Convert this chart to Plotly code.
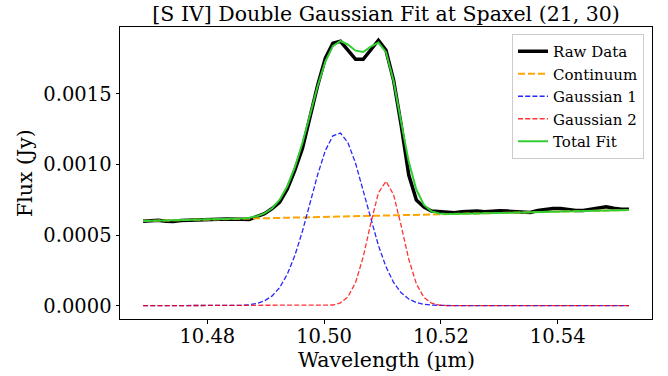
import plotly.graph_objects as go

wavelength = [
    10.4690, 10.4703, 10.4716, 10.4729, 10.4742, 10.4755, 10.4768, 10.4781, 10.4794, 10.4807,
    10.4820, 10.4833, 10.4846, 10.4859, 10.4872, 10.4885, 10.4898, 10.4911, 10.4924, 10.4937,
    10.4950, 10.4963, 10.4976, 10.4989, 10.5002, 10.5015, 10.5028, 10.5041, 10.5054, 10.5067,
    10.5080, 10.5093, 10.5106, 10.5119, 10.5132, 10.5145, 10.5158, 10.5171, 10.5184, 10.5197,
    10.5210, 10.5223, 10.5236, 10.5249, 10.5262, 10.5275, 10.5288, 10.5301, 10.5314, 10.5327,
    10.5340, 10.5353, 10.5366, 10.5379, 10.5392, 10.5405, 10.5418, 10.5431, 10.5444, 10.5457,
    10.5470, 10.5483, 10.5496, 10.5509, 10.5522,
]

raw_flux = [
    0.000599, 0.000603, 0.000606, 0.000599, 0.000596, 0.000603, 0.000606, 0.000610, 0.000610, 0.000613,
    0.000613, 0.000615, 0.000616, 0.000613, 0.000611, 0.000630, 0.000652, 0.000688, 0.000734, 0.000826,
    0.000960, 0.001116, 0.001335, 0.001561, 0.001752, 0.001859, 0.001873, 0.001809, 0.001745, 0.001745,
    0.001816, 0.001880, 0.001809, 0.001597, 0.001278, 0.000925, 0.000748, 0.000698, 0.000670, 0.000666,
    0.000663, 0.000659, 0.000666, 0.000670, 0.000670, 0.000666, 0.000670, 0.000672, 0.000670, 0.000666,
    0.000663, 0.000661, 0.000674, 0.000684, 0.000688, 0.000688, 0.000681, 0.000674, 0.000674, 0.000684,
    0.000695, 0.000700, 0.000691, 0.000684, 0.000684,
]

continuum = [
    0.0006000, 0.0006012, 0.0006024, 0.0006036, 0.0006049, 0.0006061, 0.0006073, 0.0006085, 0.0006097, 0.0006109,
    0.0006122, 0.0006134, 0.0006146, 0.0006158, 0.0006170, 0.0006182, 0.0006194, 0.0006207, 0.0006219, 0.0006231,
    0.0006243, 0.0006255, 0.0006267, 0.0006279, 0.0006292, 0.0006304, 0.0006316, 0.0006328, 0.0006340, 0.0006352,
    0.0006365, 0.0006377, 0.0006389, 0.0006401, 0.0006413, 0.0006425, 0.0006437, 0.0006450, 0.0006462, 0.0006474,
    0.0006486, 0.0006498, 0.0006510, 0.0006522, 0.0006535, 0.0006547, 0.0006559, 0.0006571, 0.0006583, 0.0006595,
    0.0006608, 0.0006620, 0.0006632, 0.0006644, 0.0006656, 0.0006668, 0.0006680, 0.0006693, 0.0006705, 0.0006717,
    0.0006729, 0.0006741, 0.0006753, 0.0006765, 0.0006778,
]

gaussian_1 = [
    0.0, 0.0, 0.0, 0.0, 0.0, 0.0, 0.0, 0.0, 0.0, 0.0,
    0.0, 0.0, 0.0000010, 0.0000027, 0.0000068, 0.0000160, 0.0000346, 0.0000694, 0.0001292, 0.0002231,
    0.0003568, 0.0005292, 0.0007280, 0.0009283, 0.0010978, 0.0012034, 0.0012232, 0.0011527, 0.0010072, 0.0008160,
    0.0006128, 0.0004267, 0.0002755, 0.0001649, 0.0000915, 0.0000471, 0.0000225, 0.0000099, 0.0000041, 0.0000015,
    0.0000005, 0.0, 0.0, 0.0, 0.0, 0.0, 0.0, 0.0, 0.0, 0.0,
    0.0, 0.0, 0.0, 0.0, 0.0, 0.0, 0.0, 0.0, 0.0, 0.0,
    0.0, 0.0, 0.0, 0.0, 0.0,
]

gaussian_2 = [
    0.0, 0.0, 0.0, 0.0, 0.0, 0.0, 0.0, 0.0, 0.0, 0.0,
    0.0, 0.0, 0.0, 0.0, 0.0, 0.0, 0.0, 0.0, 0.0, 0.0,
    0.0, 0.0, 0.0, 0.0, 0.0000010, 0.0000050, 0.0000199, 0.0000638, 0.0001652, 0.0003459,
    0.0005850, 0.0007991, 0.0008818, 0.0007861, 0.0005662, 0.0003293, 0.0001547, 0.0000588, 0.0000180, 0.0000045,
    0.0000009, 0.0, 0.0, 0.0, 0.0, 0.0, 0.0, 0.0, 0.0, 0.0,
    0.0, 0.0, 0.0, 0.0, 0.0, 0.0, 0.0, 0.0, 0.0, 0.0,
    0.0, 0.0, 0.0, 0.0, 0.0,
]

total_fit = [
    0.0006000, 0.0006012, 0.0006024, 0.0006036, 0.0006049, 0.0006061, 0.0006073, 0.0006085, 0.0006097, 0.0006109,
    0.0006122, 0.0006134, 0.0006156, 0.0006185, 0.0006238, 0.0006342, 0.0006540, 0.0006901, 0.0007511, 0.0008462,
    0.0009811, 0.0011547, 0.0013547, 0.0015562, 0.0017280, 0.0018388, 0.0018747, 0.0018493, 0.0018064, 0.0017971,
    0.0018343, 0.0018635, 0.0017962, 0.0015911, 0.0012990, 0.0010189, 0.0008209, 0.0007137, 0.0006683, 0.0006534,
    0.0006500, 0.0006498, 0.0006510, 0.0006522, 0.0006535, 0.0006547, 0.0006559, 0.0006571, 0.0006583, 0.0006595,
    0.0006608, 0.0006620, 0.0006632, 0.0006644, 0.0006656, 0.0006668, 0.0006680, 0.0006693, 0.0006705, 0.0006717,
    0.0006729, 0.0006741, 0.0006753, 0.0006765, 0.0006778,
]

x_ticks = [10.48, 10.50, 10.52, 10.54]
y_ticks = [0.0, 0.0005, 0.0010, 0.0015]

FONT = "DejaVu Serif"

fig = go.Figure()
fig.add_trace(go.Scatter(x=wavelength, y=raw_flux, mode="lines", name="Raw Data",
                         line=dict(color="black", width=3.5)))
fig.add_trace(go.Scatter(x=wavelength, y=continuum, mode="lines", name="Continuum",
                         line=dict(color="#FFA500", width=2, dash="7px,3px")))
fig.add_trace(go.Scatter(x=wavelength, y=gaussian_1, mode="lines", name="Gaussian 1",
                         line=dict(color="rgba(0,0,255,0.85)", width=1.3, dash="5px,2.2px")))
fig.add_trace(go.Scatter(x=wavelength, y=gaussian_2, mode="lines", name="Gaussian 2",
                         line=dict(color="rgba(255,0,0,0.8)", width=1.3, dash="5px,2.2px")))
fig.add_trace(go.Scatter(x=wavelength, y=total_fit, mode="lines", name="Total Fit",
                         line=dict(color="#32CD32", width=2)))

axis_common = dict(
    showline=True, linecolor="black", linewidth=1, mirror=True,
    ticks="outside", ticklen=3.5, tickwidth=1, tickcolor="black",
    showgrid=False, zeroline=False, automargin=False,
    tickfont=dict(family=FONT, size=19.5, color="black"),
)

fig.update_xaxes(
    range=[10.46505, 10.55615], tickvals=x_ticks, ticktext=[f"{v:.2f}" for v in x_ticks],
    ticklabelstandoff=-4,
    **axis_common,
)
fig.update_yaxes(
    range=[-0.0000941, 0.001974], tickvals=y_ticks, ticktext=[f"{v:.4f}" for v in y_ticks],
    **axis_common,
)

fig.add_annotation(
    text="Wavelength (µm)", xref="paper", yref="paper", x=0.5, y=-0.1403,
    xanchor="center", yanchor="middle", showarrow=False,
    font=dict(family=FONT, size=20.5, color="black"),
)
fig.add_annotation(
    text="Flux (Jy)", xref="paper", yref="paper", x=-0.1786, y=0.5,
    xanchor="center", yanchor="middle", showarrow=False, textangle=-90,
    font=dict(family=FONT, size=20.5, color="black"),
)

fig.update_layout(
    width=668, height=376,
    margin=dict(l=120, r=16, t=27, b=57),
    paper_bgcolor="white", plot_bgcolor="white",
    title=dict(text="[S IV] Double Gaussian Fit at Spaxel (21, 30)",
               font=dict(family=FONT, size=20.5, color="black"),
               x=0.578, xanchor="center", y=0.963, yanchor="middle"),
    legend=dict(x=0.985, xanchor="right", y=0.976, yanchor="top",
                bgcolor="rgba(255,255,255,0.8)", bordercolor="#cccccc", borderwidth=1,
                font=dict(family=FONT, size=15, color="black")),
    showlegend=True,
)

fig.write_html(
    "out.html",
    config={"displayModeBar": False},
    post_script="document.body.style.margin='0';document.body.style.padding='0';document.body.style.overflow='hidden';",
)
